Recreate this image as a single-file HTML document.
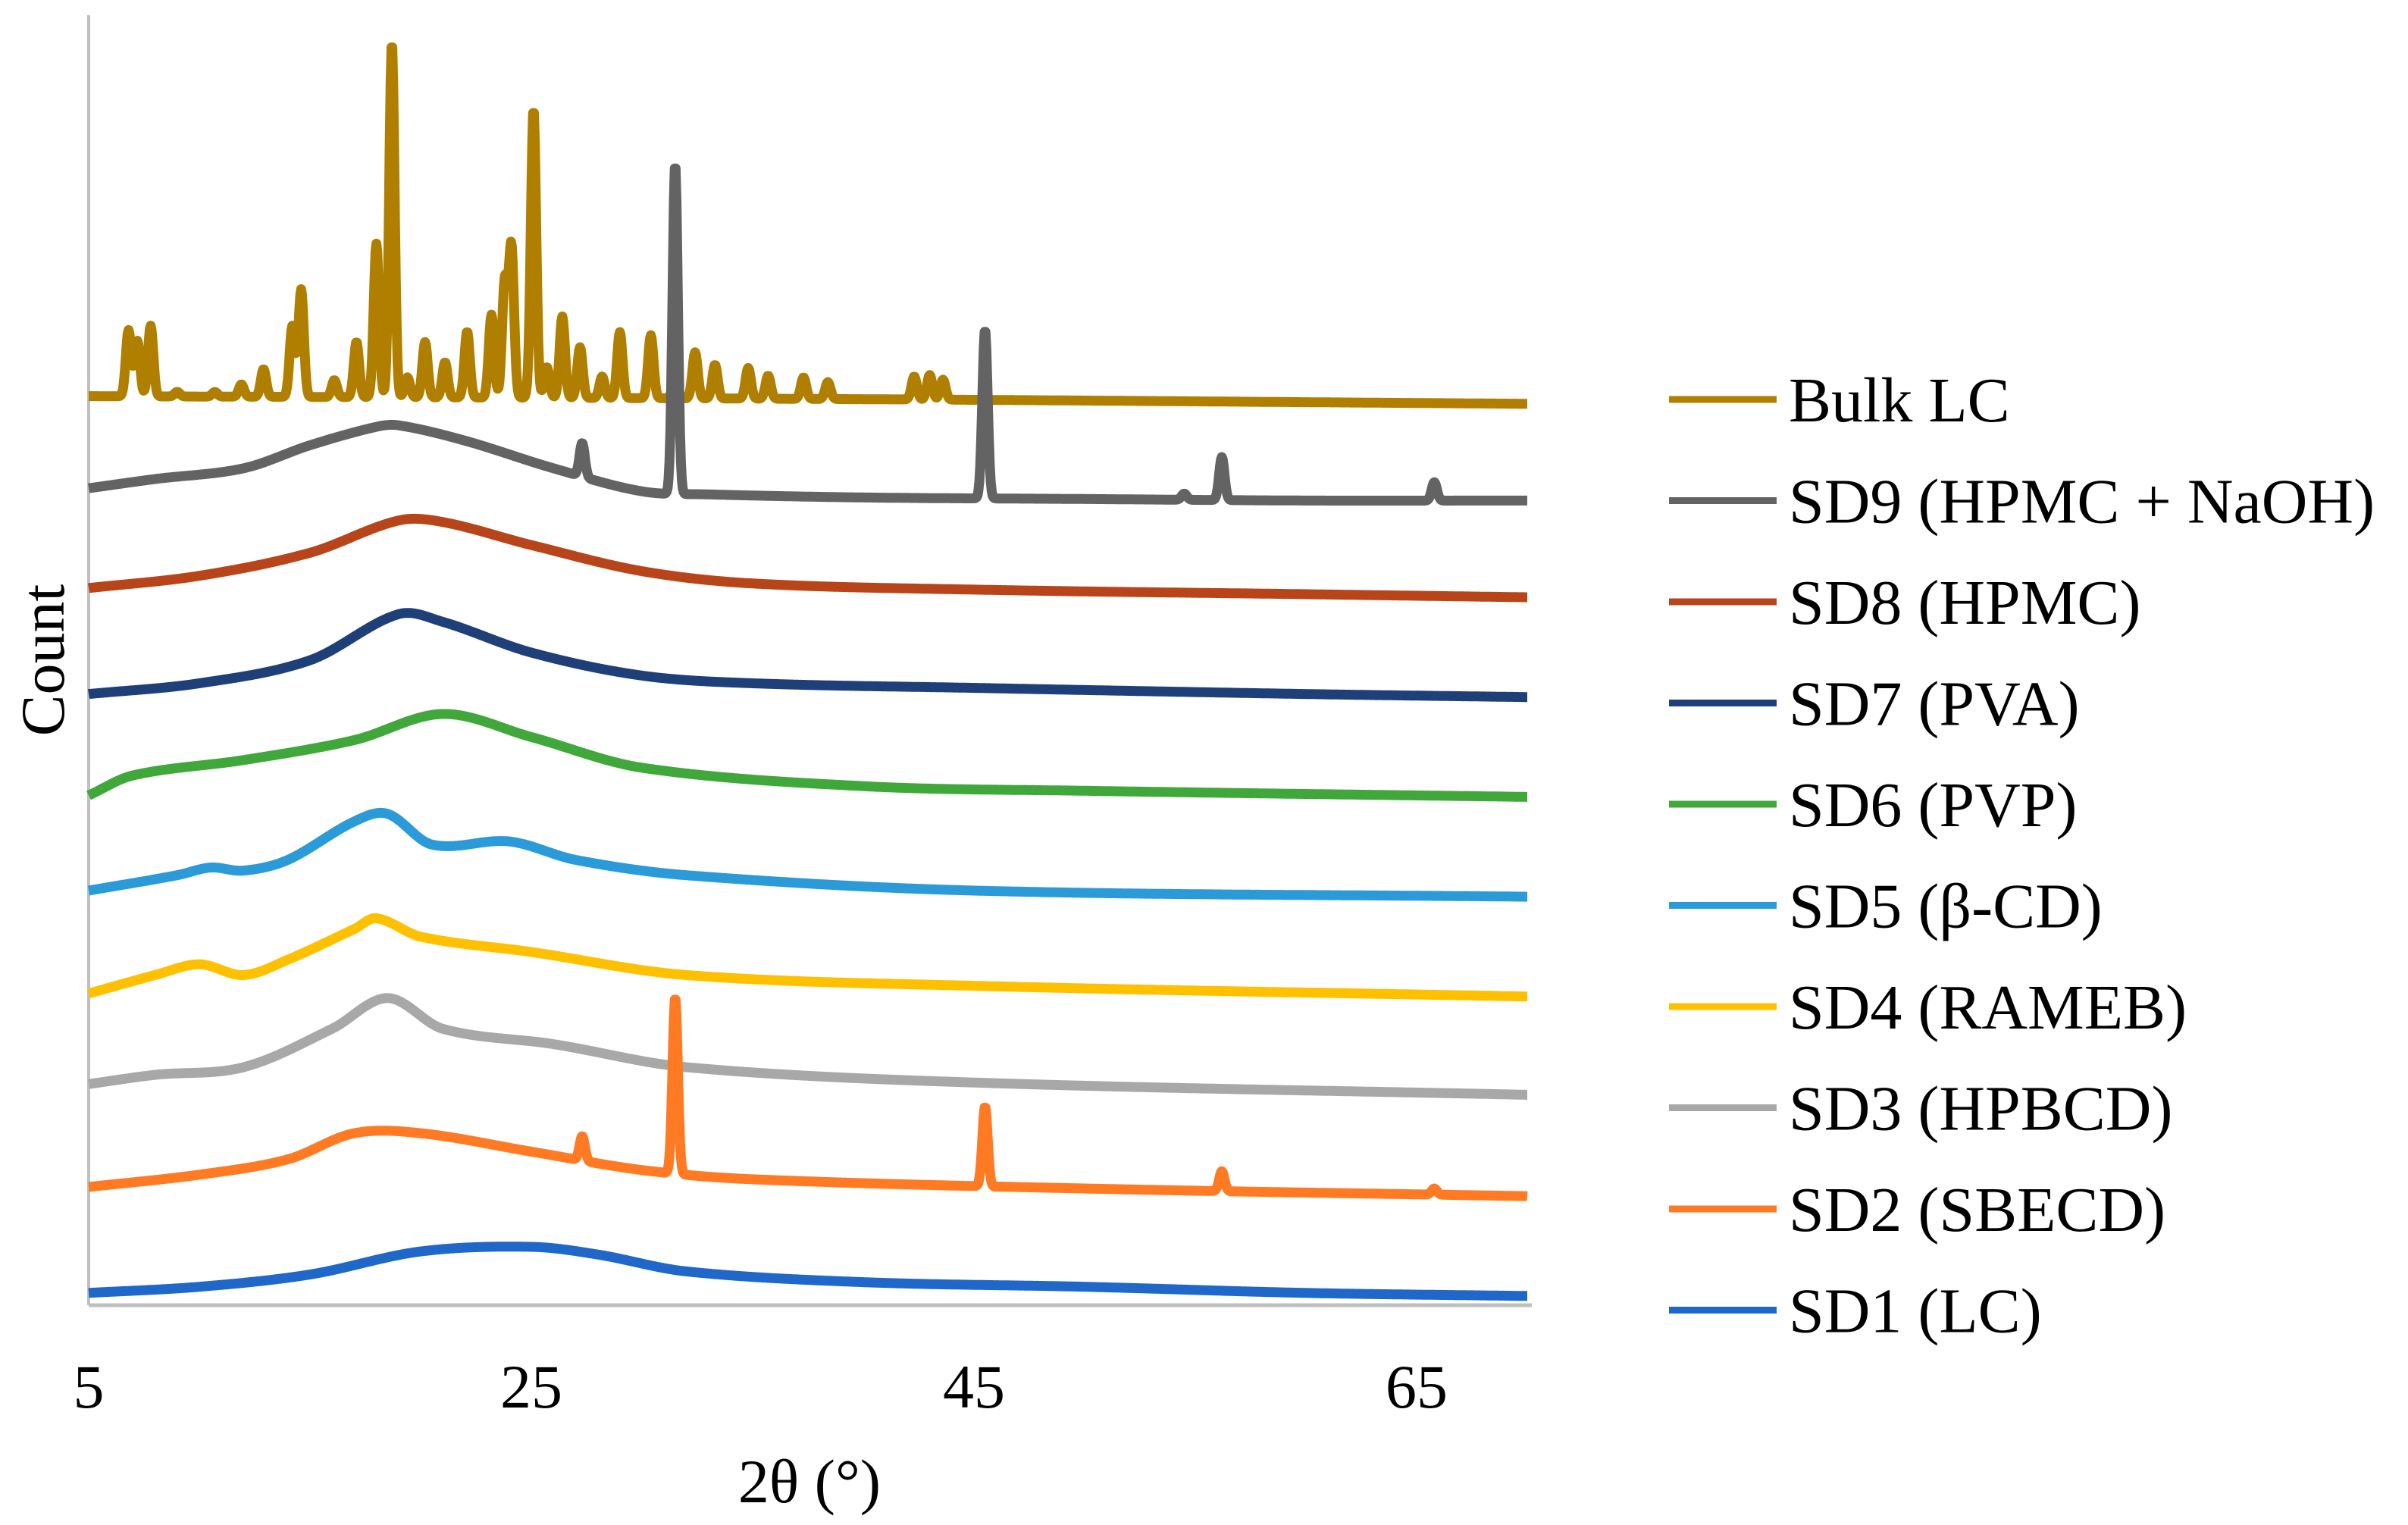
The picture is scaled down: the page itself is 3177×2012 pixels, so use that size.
<!DOCTYPE html>
<html><head><meta charset="utf-8"><style>
body{margin:0;background:#fff}
svg{display:block}
text{font-family:"Liberation Serif",serif;fill:#000}
</style></head><body>
<svg id="chart" width="3177" height="2012" viewBox="0 0 3177 2012" xmlns="http://www.w3.org/2000/svg">
<line x1="117" y1="20" x2="117" y2="1722" stroke="#bfbfbf" stroke-width="4"/>
<line x1="117" y1="1722" x2="2021" y2="1722" stroke="#bfbfbf" stroke-width="5"/>
<text transform="translate(84,871) rotate(-90)" text-anchor="middle" font-size="82">Count</text>
<text x="1068" y="1982" text-anchor="middle" font-size="82">2θ (°)</text>
<g id="ticks"></g>
<g id="series"></g>
<g id="legend"></g>
</svg>
<script>
const tickValues = [5, 25, 45, 65];
const seriesNames = ["Bulk LC","SD9 (HPMC + NaOH)","SD8 (HPMC)","SD7 (PVA)","SD6 (PVP)","SD5 (β-CD)","SD4 (RAMEB)","SD3 (HPBCD)","SD2 (SBECD)","SD1 (LC)"];
const seriesColors = ["#b07f00","#636363","#b8441a","#1f3f78","#40a83a","#2a9ad8","#ffc000","#a8a8a8","#ff7a22","#1f67c8"];
const baseBulk = [[5,592],[40,590],[70,587]];
const peaksBulk = [[6.8,43],[7.2,36],[7.8,46],[9.0,3],[10.7,3],[11.9,8],[12.9,18],[14.2,46],[14.6,70],[16.1,11],[17.1,36],[18.0,100],[18.7,231],[19.4,13],[20.2,36],[21.1,23],[22.1,43],[23.2,54],[23.8,75],[24.1,98],[25.1,188],[25.7,20],[26.4,53],[27.2,33],[28.2,14],[29.0,43],[30.4,41],[31.5,13],[32.4,30],[33.3,22],[34.8,20],[35.7,15],[37.3,14],[38.4,11],[42.3,15],[43.0,16],[43.6,13]];
const baseSD9 = [[5,532],[8,538],[12,545],[15,560],[18,572],[19,573],[22,563],[26,545],[30,530],[33,528],[40,526],[50,525],[60,524],[70,524]];
const peaksSD9 = [[27.3,22],[31.5,215],[45.5,110],[54.5,4],[56.2,28],[65.8,12]];
const baseSD8 = [[5,467],[10,475],[15,490],[19,511],[21,510],[25,495],[30,478],[35,470],[45,466],[60,463],[70,461]];
const baseSD7 = [[5,398],[10,405],[15,420],[19,450],[21,445],[25,425],[30,410],[35,405],[45,402],[60,398],[70,396]];
const baseSD6 = [[5,332],[7,345],[12,355],[17,368],[21,385],[25,370],[30,350],[40,338],[50,335],[70,331]];
const baseSD5 = [[5,270],[9,280],[10.5,285],[12,283],[14,290],[17,315],[18.5,320],[20.5,300],[24,302],[27,290],[32,280],[45,270],[70,266]];
const baseSD4 = [[5,203],[8,215],[10,222],[12,215],[14,225],[17,245],[18,252],[20,240],[25,230],[32,215],[45,208],[70,201]];
const baseSD3 = [[5,144],[8,150],[12,155],[16,180],[18.5,200],[21,180],[26,170],[32,155],[45,145],[70,137]];
const baseSD2 = [[5,77],[10,85],[14,95],[17,112],[20,112],[25,100],[30,88],[35,82],[50,76],[70,71]];
const peaksSD2 = [[27.3,16],[31.5,115],[45.5,52],[56.2,13],[65.8,4]];
const baseSD1 = [[5,8],[10,12],[15,20],[20,35],[25,38],[28,33],[32,22],[40,15],[50,12],[60,8],[70,6]];
const seriesBases = [baseBulk,baseSD9,baseSD8,baseSD7,baseSD6,baseSD5,baseSD4,baseSD3,baseSD2,baseSD1];
const seriesPeaks = [peaksBulk,peaksSD9,[],[],[],[],[],[],peaksSD2,[]];

const NS="http://www.w3.org/2000/svg";
function xScale(t){return 117+(t-5)*29.2;}
function yScale(v){return 1722-v*2.026;}
function baseAt(b,t){
 for(let i=0;i<b.length-1;i++){
  if(t>=b[i][0]&&t<=b[i+1][0]){
   const p0=b[Math.max(0,i-1)],p1=b[i],p2=b[i+1],p3=b[Math.min(b.length-1,i+2)];
   const h=p2[0]-p1[0];const f=(t-p1[0])/h;
   const m1=(p2[1]-p0[1])/(p2[0]-p0[0]||1)*h;
   const m2=(p3[1]-p1[1])/(p3[0]-p1[0]||1)*h;
   const f2=f*f,f3=f2*f;
   return (2*f3-3*f2+1)*p1[1]+(f3-2*f2+f)*m1+(-2*f3+3*f2)*p2[1]+(f3-f2)*m2;
  }}
 return b[b.length-1][1];}
const tg=document.getElementById('ticks');
tickValues.forEach(v=>{const t=document.createElementNS(NS,'text');


t.setAttribute('x',xScale(v));t.setAttribute('y',1857);t.setAttribute('text-anchor','middle');t.setAttribute('font-size','82');t.textContent=v;tg.appendChild(t);});
const sg=document.getElementById('series');
const lg=document.getElementById('legend');
seriesNames.forEach((name,i)=>{
 let d='';
 for(let t=5;t<=70.0001;t+=0.04){let v=baseAt(seriesBases[i],t);
  seriesPeaks[i].forEach(p=>{const z=(t-p[0])/0.17;v+=p[1]*Math.exp(-z*z);});
  d+=(d?'L':'M')+xScale(t).toFixed(1)+','+yScale(v).toFixed(1);}
 const p=document.createElementNS(NS,'path');
 
 
 p.setAttribute('d',d);p.setAttribute('fill','none');p.setAttribute('stroke',seriesColors[i]);p.setAttribute('stroke-width','13');p.setAttribute('stroke-linejoin','round');
 sg.appendChild(p);
 const ly=527+i*133.5;
 const l=document.createElementNS(NS,'line');
 
 
 l.setAttribute('x1',2202);l.setAttribute('x2',2344);l.setAttribute('y1',ly);l.setAttribute('y2',ly);l.setAttribute('stroke',seriesColors[i]);l.setAttribute('stroke-width','9');
 lg.appendChild(l);
 const tx=document.createElementNS(NS,'text');
 
 
 tx.setAttribute('x',2360);tx.setAttribute('y',ly+29);tx.setAttribute('font-size','84');tx.textContent=name;
 lg.appendChild(tx);
});
</script>
</body></html>
